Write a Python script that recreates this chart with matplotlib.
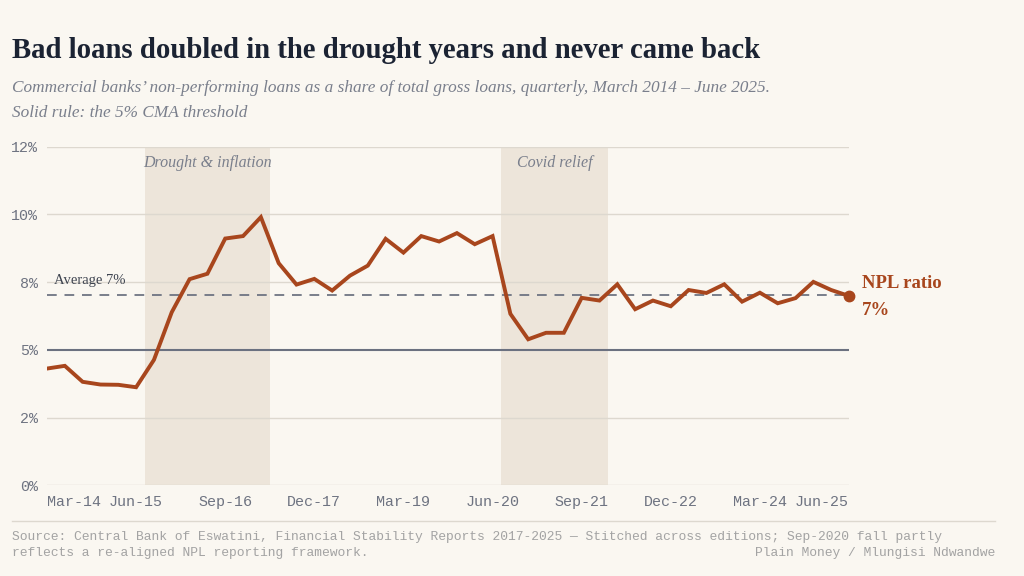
import matplotlib
matplotlib.use("Agg")
import matplotlib.pyplot as plt
import numpy as np
import pandas as pd

# ---- data ----
quarters = [d.strftime("%b-%y") for d in pd.date_range("2014-03-31", "2025-06-30", freq="QE")]
npl_ratio = [4.31, 4.41, 3.82, 3.72, 3.71, 3.62, 4.63, 6.39, 7.61, 7.81,
             9.11, 9.20, 9.90, 8.20, 7.41, 7.62, 7.19, 7.74, 8.11, 9.10,
             8.59, 9.20, 9.00, 9.31, 8.90, 9.20, 6.33, 5.39, 5.63, 5.63,
             6.92, 6.82, 7.42, 6.50, 6.82, 6.61, 7.21, 7.10, 7.42, 6.78,
             7.11, 6.72, 6.91, 7.51, 7.21, 6.99]
x_tick_labels = ["Mar-14", "Jun-15", "Sep-16", "Dec-17", "Mar-19",
                 "Jun-20", "Sep-21", "Dec-22", "Mar-24", "Jun-25"]
y_ticks = [0, 2.5, 5, 7.5, 10, 12.5]
y_tick_labels = ["0%", "2%", "5%", "8%", "10%", "12%"]
threshold = 5.0
shaded_labels = ["Drought & inflation", "Covid relief"]
shaded_start = ["Sep-15", "Sep-20"]
shaded_end = ["Mar-17", "Dec-21"]

# ---- style ----
BG = "#FAF7F1"
LINE = "#A8461D"
SHADE = "#EDE5DA"
GRID = "#DDD8CF"
RULE = "#6B7180"
TICK = "#6E7381"
TITLE = "#1B2333"
SUB = "#7A7F8C"
FOOT = "#A3A3A3"
MONO = "Liberation Mono"

fig = plt.figure(figsize=(10.24, 5.76), dpi=100, facecolor=BG)
ax = fig.add_axes([47/1024, 1 - 485.3/576, (849 - 47)/1024, (485.3 - 146.7)/576])
ax.set_facecolor(BG)

x = np.arange(len(quarters))
avg = float(np.mean(npl_ratio))

# shaded periods
for lab, s, e in zip(shaded_labels, shaded_start, shaded_end):
    i0 = quarters.index(s) - 0.5
    i1 = quarters.index(e) + 0.5
    ax.axvspan(i0, i1, color=SHADE, lw=0, zorder=0)
    ax.text((i0 + i1) / 2, 11.88, lab, ha="center", va="center",
            family="Liberation Serif", style="italic", fontsize=11.5, color=SUB, zorder=5)

# gridlines
for yt in y_ticks:
    if yt != threshold:
        ax.axhline(yt, color=GRID, lw=1.0, zorder=1)
ax.axhline(threshold, color=RULE, lw=1.5, zorder=2)
ax.axhline(avg, color=RULE, lw=1.4, ls=(0, (5, 4)), zorder=2, alpha=0.9)
ax.text(0.4, avg + 0.3, f"Average {avg:.0f}%", ha="left", va="bottom",
        family="Liberation Serif", fontsize=10.5, color="#3E4450", zorder=5)

# series
ax.plot(x, npl_ratio, color=LINE, lw=2.8, solid_joinstyle="miter", zorder=4)
ax.plot(x[-1], npl_ratio[-1], "o", color=LINE, ms=7.5, zorder=5, clip_on=False)
ax.annotate("NPL ratio", xy=(x[-1], npl_ratio[-1]), xytext=(9, 3),
            textcoords="offset points", ha="left", va="bottom",
            family="Liberation Serif", fontweight="bold", fontsize=13.5, color=LINE,
            annotation_clip=False)
ax.annotate(f"{npl_ratio[-1]:.0f}%", xy=(x[-1], npl_ratio[-1]), xytext=(9, -4),
            textcoords="offset points", ha="left", va="top",
            family="Liberation Serif", fontweight="bold", fontsize=13.5, color=LINE,
            annotation_clip=False)

ax.set_xlim(0, len(quarters) - 1)
ax.set_ylim(0, 12.5)
ax.set_yticks(y_ticks)
ax.set_yticklabels(y_tick_labels)
ax.set_xticks([quarters.index(q) for q in x_tick_labels])
ax.set_xticklabels(x_tick_labels)
ax.tick_params(length=0, colors=TICK, labelsize=10.8)
ax.tick_params(axis="y", pad=6.5)
ax.tick_params(axis="x", pad=7)
for t in ax.get_xticklabels() + ax.get_yticklabels():
    t.set_family(MONO)
xt = ax.get_xticklabels()
xt[0].set_ha("left")
xt[-1].set_ha("right")
for s in ax.spines.values():
    s.set_visible(False)

# titles
fig.text(12/1024, 1 - 50/576, "Bad loans doubled in the drought years and never came back",
         ha="left", va="center", family="Liberation Serif", fontweight="bold",
         fontsize=20.7, color=TITLE)
fig.text(12/1024, 1 - 88/576,
         "Commercial banks\u2019 non-performing loans as a share of total gross loans, quarterly, March 2014 \u2013 June 2025.",
         ha="left", va="center", family="Liberation Serif", style="italic",
         fontsize=12.4, color=SUB)
fig.text(12/1024, 1 - 113/576, "Solid rule: the 5% CMA threshold",
         ha="left", va="center", family="Liberation Serif", style="italic",
         fontsize=12.4, color=SUB)

# footer
fig.add_artist(plt.Line2D([12/1024, 995/1024], [1 - 521/576, 1 - 521/576],
                          color=GRID, lw=1.0, transform=fig.transFigure))
fig.text(12/1024, 1 - 537/576,
         "Source: Central Bank of Eswatini, Financial Stability Reports 2017-2025 \u2014 Stitched across editions; Sep-2020 fall partly",
         ha="left", va="center", family=MONO, fontsize=9.35, color=FOOT)
fig.text(12/1024, 1 - 553/576, "reflects a re-aligned NPL reporting framework.",
         ha="left", va="center", family=MONO, fontsize=9.35, color=FOOT)
fig.text(995/1024, 1 - 553/576, "Plain Money / Mlungisi Ndwandwe",
         ha="right", va="center", family=MONO, fontsize=9.35, color=FOOT)

fig.savefig("out.png", dpi=100, facecolor=BG)
